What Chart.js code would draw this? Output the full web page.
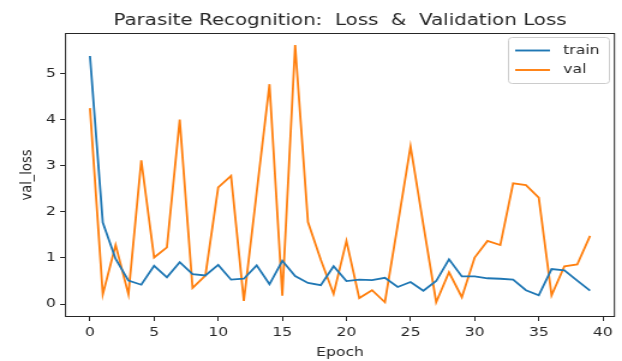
<!DOCTYPE html>
<html lang="en">
<head>
  <meta charset="UTF-8" />
  <title>Parasite Recognition: Loss & Validation Loss</title>
  <script src="https://cdn.jsdelivr.net/npm/chart.js"></script>
  <style>
    html, body { margin: 0; padding: 0; background: #fff; overflow: hidden; }
    /* the source figure was resized wider than tall, so stretch the drawing the same way */
    #wrap { width: 518px; height: 361px; transform: scaleX(1.2008); transform-origin: 0 0; }
    canvas { display: block; }
  </style>
</head>
<body>
  <div id="wrap">
    <canvas id="lossChart" width="518" height="361"></canvas>
  </div>

  <script>
    const epochs = [0, 1, 2, 3, 4, 5, 6, 7, 8, 9, 10, 11, 12, 13, 14, 15, 16, 17, 18, 19,
                    20, 21, 22, 23, 24, 25, 26, 27, 28, 29, 30, 31, 32, 33, 34, 35, 36, 37, 38, 39];
    const trainLoss = [5.38, 1.77, 0.98, 0.51, 0.42, 0.83, 0.58, 0.91, 0.65, 0.62,
                       0.85, 0.53, 0.55, 0.84, 0.43, 0.94, 0.61, 0.46, 0.41, 0.82,
                       0.50, 0.53, 0.52, 0.57, 0.37, 0.48, 0.29, 0.50, 0.97, 0.60,
                       0.60, 0.56, 0.55, 0.53, 0.30, 0.19, 0.76, 0.73, 0.51, 0.29];
    const valLoss = [4.25, 0.21, 1.28, 0.21, 3.12, 1.01, 1.23, 4.00, 0.35, 0.62,
                     2.53, 2.78, 0.07, 2.42, 4.77, 0.18, 5.62, 1.78, 0.96, 0.22,
                     1.37, 0.13, 0.30, 0.04, 1.72, 3.42, 1.72, 0.04, 0.69, 0.15,
                     1.01, 1.37, 1.28, 2.62, 2.58, 2.31, 0.19, 0.82, 0.86, 1.48];
    const xTicks = [0, 5, 10, 15, 20, 25, 30, 35, 40];
    const yTicks = [0, 1, 2, 3, 4, 5];

    const FONT = 'DejaVu Sans';
    const INK = '#262626';

    // matplotlib-like frame, title and in-plot legend
    const mplDecor = {
      id: 'mplDecor',
      afterDraw(chart) {
        const { ctx, chartArea: a } = chart;
        ctx.save();
        ctx.strokeStyle = INK;
        ctx.lineWidth = 1;
        ctx.strokeRect(a.left + 0.5, a.top + 0.5, a.right - a.left - 1, a.bottom - a.top - 1);

        ctx.fillStyle = INK;
        ctx.font = '16.5px "' + FONT + '"';
        ctx.textAlign = 'center';
        ctx.textBaseline = 'alphabetic';
        ctx.fillText('Parasite Recognition:  Loss  &  Validation Loss', (a.left + a.right) / 2, 25);

        // legend box, upper right
        const bx = 423.5, by = 37.5, bw = 84, bh = 46;
        ctx.beginPath();
        ctx.roundRect(bx, by, bw, bh, 3);
        ctx.fillStyle = 'rgba(255,255,255,0.8)';
        ctx.fill();
        ctx.strokeStyle = '#cccccc';
        ctx.lineWidth = 1;
        ctx.stroke();

        ctx.font = '13px "' + FONT + '"';
        ctx.textAlign = 'left';
        ctx.textBaseline = 'middle';
        chart.data.datasets.forEach((ds, i) => {
          const y = 50.5 + i * 19.5;
          ctx.beginPath();
          ctx.moveTo(429, y);
          ctx.lineTo(458, y);
          ctx.strokeStyle = ds.borderColor;
          ctx.lineWidth = 1.9;
          ctx.stroke();
          ctx.fillStyle = INK;
          ctx.fillText(ds.label, 469, y);
        });
        ctx.restore();
      }
    };

    const tickFont = { family: FONT, size: 13 };

    new Chart(document.getElementById('lossChart'), {
      type: 'line',
      data: {
        datasets: [{
          label: 'train',
          data: epochs.map((e, i) => ({ x: e, y: trainLoss[i] })),
          borderColor: '#1f77b4',
          borderWidth: 1.8,
          pointRadius: 0,
          tension: 0
        }, {
          label: 'val',
          data: epochs.map((e, i) => ({ x: e, y: valLoss[i] })),
          borderColor: '#ff7f0e',
          borderWidth: 1.8,
          pointRadius: 0,
          tension: 0
        }]
      },
      options: {
        responsive: false,
        animation: false,
        devicePixelRatio: 1,
        layout: { padding: { top: 33, right: 5.8, left: 0, bottom: 0 } },
        plugins: {
          legend: { display: false },
          title: { display: false },
          tooltip: { enabled: false }
        },
        scales: {
          x: {
            type: 'linear',
            min: -1.95,
            max: 40.95,
            afterBuildTicks: s => { s.ticks = xTicks.map(v => ({ value: v })); },
            afterFit: s => { s.height = 44; },
            grid: { drawOnChartArea: false, tickLength: 4, color: INK },
            border: { display: false },
            ticks: { font: tickFont, color: INK, padding: 4, maxRotation: 0, autoSkip: false },
            title: { display: true, text: 'Epoch', font: tickFont, color: INK, padding: { top: 0, bottom: 0.5 } }
          },
          y: {
            type: 'linear',
            min: -0.28,
            max: 5.88,
            afterBuildTicks: s => { s.ticks = yTicks.map(v => ({ value: v })); },
            afterFit: s => { s.width = 54.1; },
            grid: { drawOnChartArea: false, tickLength: 4, color: INK },
            border: { display: false },
            ticks: { font: tickFont, color: INK, padding: 3.5 },
            title: { display: true, text: 'val_loss', font: tickFont, color: INK, padding: { top: 15, bottom: 0 } }
          }
        }
      },
      plugins: [mplDecor]
    });
  </script>
</body>
</html>
